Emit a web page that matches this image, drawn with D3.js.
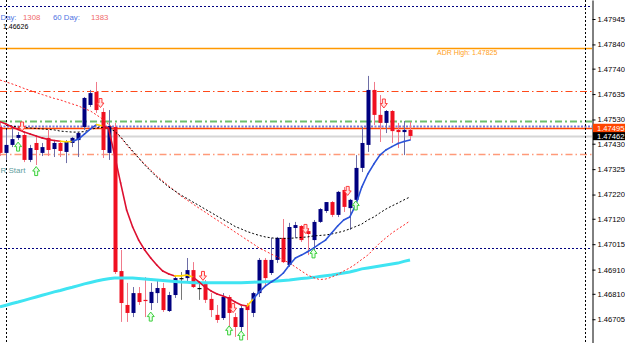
<!DOCTYPE html>
<html>
<head>
<meta charset="utf-8">
<script src="https://cdn.jsdelivr.net/npm/d3@7"></script>
<style>
  body { margin: 0; background: #fff; }
  svg { display: block; font-family: "Liberation Sans", Arial, sans-serif; }
</style>
</head>
<body>
<div id="chart"></div>
<script>
// candles (price)
const opens = [1.47499,1.47392,1.47425,1.47454,1.47466,1.47363,1.47433,1.47392,1.47454,1.47408,1.47433,1.47396,1.47433,1.47445,1.47499,1.47590,1.47644,1.47561,1.47392,1.47499,
  1.46904,1.46764,1.46731,1.46813,1.46785,1.46772,1.46813,1.46834,1.46739,1.46805,
  1.46875,1.46875,1.46908,1.46834,1.46855,1.46789,1.46723,1.46710,1.46797,1.46714,
  1.46673,1.46764,1.46731,1.46813,1.46950,1.46896,1.46950,1.47041,1.46929,1.47082,
  1.47090,1.47069,1.47032,1.47107,1.47152,1.47189,1.47136,1.47239,1.47164,1.47198,
  1.47330,1.47425,1.47652,1.47549,1.47516,1.47565,1.47487,1.47478,1.47487];
const highs = [1.47520,1.47487,1.47495,1.47478,1.47478,1.47425,1.47458,1.47433,1.47487,1.47445,1.47437,1.47445,1.47458,1.47478,1.47623,1.47652,1.47685,1.47577,1.47569,1.47516,
  1.46991,1.46855,1.46838,1.46838,1.46879,1.46855,1.46867,1.46855,1.46818,1.46888,
  1.46900,1.46958,1.46941,1.46855,1.46867,1.46813,1.46764,1.46813,1.46805,1.46731,
  1.46760,1.46772,1.46818,1.46958,1.46958,1.47041,1.47045,1.47119,1.47103,1.47107,
  1.47094,1.47082,1.47115,1.47164,1.47189,1.47193,1.47235,1.47251,1.47202,1.47383,
  1.47499,1.47710,1.47685,1.47631,1.47569,1.47569,1.47516,1.47524,1.47520];
const lows = [1.47379,1.47363,1.47416,1.47445,1.47354,1.47354,1.47342,1.47379,1.47379,1.47375,1.47375,1.47350,1.47416,1.47375,1.47487,1.47582,1.47557,1.47371,1.47363,1.46892,
  1.46694,1.46694,1.46714,1.46764,1.46714,1.46743,1.46772,1.46735,1.46735,1.46793,
  1.46785,1.46859,1.46834,1.46785,1.46772,1.46714,1.46690,1.46702,1.46669,1.46632,
  1.46656,1.46619,1.46714,1.46797,1.46846,1.46888,1.46937,1.46937,1.46921,1.47041,
  1.47024,1.46970,1.46983,1.47103,1.47144,1.47127,1.47127,1.47148,1.47074,1.47177,
  1.47313,1.47396,1.47507,1.47437,1.47474,1.47433,1.47412,1.47383,1.47445];
const closes = [1.47392,1.47425,1.47449,1.47466,1.47363,1.47412,1.47404,1.47416,1.47404,1.47433,1.47400,1.47437,1.47454,1.47474,1.47619,1.47639,1.47569,1.47404,1.47503,1.46900,
  1.46772,1.46731,1.46813,1.46776,1.46780,1.46818,1.46834,1.46743,1.46805,1.46875,
  1.46875,1.46908,1.46838,1.46834,1.46785,1.46743,1.46702,1.46797,1.46731,1.46673,
  1.46751,1.46743,1.46813,1.46950,1.46875,1.46950,1.47041,1.46941,1.47086,1.47094,
  1.47032,1.47057,1.47107,1.47160,1.47189,1.47136,1.47231,1.47169,1.47198,1.47330,
  1.47433,1.47652,1.47549,1.47516,1.47565,1.47482,1.47478,1.47487,1.47462];

// moving averages
const maFast = [1.47521,1.47511,1.47499,1.47489,1.47478,1.47470,1.47462,1.47454,1.47447,1.47443,
  1.47440,1.47438,1.47439,1.47449,1.47470,1.47491,1.47509,1.47503,1.47495,1.47383,
  1.47268,1.47156,1.47086,1.47032,1.46991,1.46958,1.46929,1.46904,1.46892,1.46884,
  1.46884,1.46888,1.46879,1.46859,1.46838,1.46822,1.46809,1.46801,1.46791,1.46776,
  1.46764,1.46760,1.46789,1.46818,1.46842,1.46859,1.46875,1.46896,1.46929,1.46958,
  1.46970,1.46984,1.46999,1.47016,1.47032,1.47061,1.47090,1.47115,1.47127,1.47177,
  1.47251,1.47305,1.47346,1.47383,1.47404,1.47418,1.47431,1.47439,1.47445];
const maRedDotted = [1.47693,1.47685,1.47677,1.47668,1.47658,1.47650,1.47641,1.47633,1.47625,1.47617,
  1.47611,1.47602,1.47594,1.47586,1.47575,1.47565,1.47549,1.47532,1.47511,1.47487,
  1.47458,1.47425,1.47396,1.47371,1.47346,1.47321,1.47297,1.47276,1.47255,1.47235,
  1.47214,1.47198,1.47181,1.47164,1.47148,1.47131,1.47115,1.47098,1.47082,1.47065,
  1.47049,1.47032,1.47016,1.46999,1.46987,1.46974,1.46962,1.46950,1.46937,1.46921,
  1.46904,1.46888,1.46877,1.46869,1.46871,1.46879,1.46890,1.46904,1.46917,1.46933,
  1.46952,1.46970,1.46995,1.47020,1.47041,1.47061,1.47078,1.47094,1.47111];
const maBlackDotted = [null,1.47507,1.47503,1.47499,1.47497,1.47495,1.47493,1.47491,1.47489,1.47487,
  1.47482,1.47480,1.47478,1.47478,1.47480,1.47489,1.47495,1.47497,1.47495,1.47482,
  1.47458,1.47429,1.47400,1.47371,1.47342,1.47317,1.47292,1.47272,1.47251,1.47235,
  1.47218,1.47204,1.47189,1.47175,1.47160,1.47146,1.47131,1.47117,1.47103,1.47088,
  1.47078,1.47067,1.47059,1.47051,1.47045,1.47041,1.47039,1.47039,1.47039,1.47041,
  1.47043,1.47045,1.47049,1.47051,1.47053,1.47057,1.47063,1.47069,1.47078,1.47088,
  1.47098,1.47115,1.47127,1.47144,1.47160,1.47173,1.47185,1.47198,1.47210];
const maCyan = [1.46756,1.46763,1.46770,1.46776,1.46783,1.46790,1.46797,1.46804,1.46811,1.46818,
  1.46824,1.46831,1.46837,1.46844,1.46851,1.46857,1.46863,1.46868,1.46872,1.46875,
  1.46875,1.46875,1.46875,1.46873,1.46871,1.46869,1.46867,1.46865,1.46863,1.46861,
  1.46859,1.46858,1.46856,1.46856,1.46856,1.46856,1.46856,1.46856,1.46856,1.46856,
  1.46856,1.46857,1.46858,1.46859,1.46860,1.46861,1.46863,1.46865,1.46867,1.46870,
  1.46873,1.46875,1.46878,1.46882,1.46885,1.46888,1.46892,1.46896,1.46900,1.46906,
  1.46913,1.46917,1.46921,1.46925,1.46929,1.46933,1.46937,1.46944,1.46950];

// signal arrows: candle index + price
const sellIdx = [3, 16, 33, 38, 50, 57, 63];
const sellPrice = [1.47501, 1.47598, 1.46884, 1.46751, 1.47078, 1.47235, 1.47596];
const buyIdx = [3, 6, 25, 38, 40, 52, 59];
const buyPrice = [1.47418, 1.47317, 1.46716, 1.46659, 1.46638, 1.46977, 1.47175];

// horizontal levels
const levelNames = ["topDot", "adrHigh", "res", "green", "ask", "bid", "last", "sup", "lowDot"];
const levelPrices = [1.48000, 1.47825, 1.47648, 1.47525, 1.47502, 1.47495, 1.47462, 1.47386, 1.46998];
const vlineIdx = [1, 97];

const tickVals = [1.47945,1.47840,1.47740,1.47635,1.47530,1.47430,1.47325,1.47220,1.47120,1.47015,1.46910,1.46810,1.46705];

const W = 625, H = 343, axisX = 592;

const svg = d3.select("#chart").append("svg").attr("width", W).attr("height", H);

let x = d3.scaleLinear().domain([0, 68]).range([0, 410]);
let y = d3.scaleLinear().domain([1.466069, 1.480235]).range([H, 0]);

const levelStyle = {
  topDot:  {stroke: "#000080", w: 1, dash: "2,2"},
  adrHigh: {stroke: "#ff9900", w: 1.5, dash: null},
  res:     {stroke: "#ff4a1a", w: 1, dash: "7,3,1.5,3"},
  green:   {stroke: "#6cbf6c", w: 2, dash: "7,3,2,3"},
  ask:     {stroke: "#7a7adc", w: 2, dash: "2,1.5"},
  bid:     {stroke: "#ff4500", w: 1.5, dash: null},
  last:    {stroke: "#d6d6d6", w: 2, dash: null},
  sup:     {stroke: "#ff9a7a", w: 1.5, dash: "7,3,1.5,3"},
  lowDot:  {stroke: "#000080", w: 1, dash: "2,2"}
};

// levels behind everything
let levelG = svg.append("g");
levelG.selectAll("line.level")
  .data(levelNames)
  .enter()
  .append("line")
  .attr("class", "level")
  .attr("x1", 0)
  .attr("x2", axisX)
  .attr("y1", (d, i) => Math.round(y(levelPrices[i])) + 0.5)
  .attr("y2", (d, i) => Math.round(y(levelPrices[i])) + 0.5)
  .attr("stroke", d => levelStyle[d].stroke)
  .attr("stroke-width", d => levelStyle[d].w)
  .attr("stroke-dasharray", d => levelStyle[d].dash);

// vertical dotted separators
svg.selectAll("line.vsep")
  .data(vlineIdx)
  .enter()
  .append("line")
  .attr("class", "vsep")
  .attr("x1", d => Math.round(x(d)) + 0.5)
  .attr("x2", d => Math.round(x(d)) + 0.5)
  .attr("y1", 0).attr("y2", H)
  .attr("stroke", "#000").attr("stroke-width", 1)
  .attr("stroke-dasharray", "2,2");

// candles
const idx = d3.range(opens.length);
let candleG = svg.append("g");
candleG.selectAll("line.wick")
  .data(idx)
  .enter()
  .append("line")
  .attr("class", "wick")
  .attr("x1", i => Math.round(x(i)) + 0.5)
  .attr("x2", i => Math.round(x(i)) + 0.5)
  .attr("y1", i => y(highs[i]))
  .attr("y2", i => y(lows[i]))
  .attr("stroke", i => closes[i] > opens[i] ? "#6e6ea6" : (closes[i] < opens[i] ? "#f07a8a" : "#777"))
  .attr("stroke-width", 1);

candleG.selectAll("rect.body")
  .data(idx)
  .enter()
  .append("rect")
  .attr("class", "body")
  .attr("x", i => Math.round(x(i)) - 1.5)
  .attr("width", 4)
  .attr("y", i => Math.min(y(opens[i]), y(closes[i])))
  .attr("height", i => Math.max(1.2, Math.abs(y(opens[i]) - y(closes[i]))))
  .attr("fill", i => closes[i] > opens[i] ? "#000080" : (closes[i] < opens[i] ? "#f01020" : "#000"));

// moving averages
const line = d3.line()
  .defined(d => d != null)
  .x((d, i) => x(i))
  .y(d => y(d));

svg.append("path").datum(maCyan)
  .attr("d", line).attr("fill", "none")
  .attr("stroke", "#3fe4f2").attr("stroke-width", 3);

svg.append("path").datum(maRedDotted)
  .attr("d", line).attr("fill", "none")
  .attr("stroke", "#ff2a2a").attr("stroke-width", 1).attr("stroke-dasharray", "2,2");

svg.append("path").datum(maBlackDotted)
  .attr("d", line).attr("fill", "none")
  .attr("stroke", "#000").attr("stroke-width", 1).attr("stroke-dasharray", "2,2");

// colour-changing MA: blue rising, red falling, yellow at the turns
let segs = d3.range(maFast.length - 1).map(i => {
  let diff = maFast[i + 1] - maFast[i];
  let prev = i > 0 ? maFast[i] - maFast[i - 1] : diff;
  let col = diff > 0 ? "#2a52d8" : "#dd1030";
  if (Math.abs(diff) <= 0.00002 || (i > 0 && Math.sign(prev) !== Math.sign(diff))) col = "#ffd400";
  return {i: i, col: col};
});
svg.selectAll("line.maseg")
  .data(segs)
  .enter()
  .append("line")
  .attr("class", "maseg")
  .attr("x1", d => x(d.i))
  .attr("x2", d => x(d.i + 1))
  .attr("y1", d => y(maFast[d.i]))
  .attr("y2", d => y(maFast[d.i + 1]))
  .attr("stroke", d => d.col)
  .attr("stroke-width", 1.6)
  .attr("stroke-linecap", "round");

// arrows
const downArrow = "M-1.5,-4.5H1.5V0H3.5L0,4.5L-3.5,0H-1.5Z";
const upArrow = "M-1.5,4.5H1.5V0H3.5L0,-4.5L-3.5,0H-1.5Z";
svg.selectAll("path.sell")
  .data(sellIdx)
  .enter()
  .append("path")
  .attr("class", "sell")
  .attr("d", downArrow)
  .attr("transform", (d, k) => `translate(${x(d) + 4},${y(sellPrice[k])})`)
  .attr("fill", "#ffe4e4").attr("stroke", "#ff3b3b").attr("stroke-width", 1);
svg.selectAll("path.buy")
  .data(buyIdx)
  .enter()
  .append("path")
  .attr("class", "buy")
  .attr("d", upArrow)
  .attr("transform", (d, k) => `translate(${x(d)},${y(buyPrice[k])})`)
  .attr("fill", "#eaffea").attr("stroke", "#3ccf3c").attr("stroke-width", 1);

// price axis
svg.append("rect").attr("x", axisX).attr("y", 0).attr("width", W - axisX).attr("height", H).attr("fill", "#fff");
let yAxis = svg.append("g")
  .attr("transform", `translate(${axisX + 0.5},0)`)
  .call(d3.axisRight(y).tickValues(tickVals).tickFormat(d3.format(".5f")).tickSize(3).tickSizeOuter(0).tickPadding(2));
yAxis.select(".domain").attr("stroke", "#000");
yAxis.selectAll("text").attr("font-size", "7.6px").attr("fill", "#000")
  .attr("font-family", "'Liberation Sans', Arial, sans-serif");

// price tags
const tagPrices = [levelPrices[6], levelPrices[5]];
const tagFill = ["#000", "#ff4500"];
svg.selectAll("rect.tag")
  .data(tagPrices)
  .enter()
  .append("rect")
  .attr("class", "tag")
  .attr("x", axisX + 1).attr("width", W - axisX - 1)
  .attr("y", d => y(d) - 4.2).attr("height", 8.4)
  .attr("fill", (d, k) => tagFill[k]);
svg.selectAll("text.tag")
  .data(tagPrices)
  .enter()
  .append("text")
  .attr("class", "tag")
  .attr("x", axisX + 5)
  .attr("y", d => y(d) + 2.8)
  .attr("font-size", "7.6px")
  .attr("fill", "#fff")
  .text(d => d3.format(".5f")(d));

// texts
svg.append("text").attr("x", 0.5).attr("y", 19.5)
  .attr("font-size", "7.8px").attr("fill", "#4f74e3").text("Day:");
svg.append("text").attr("x", 23).attr("y", 19.5)
  .attr("font-size", "7.8px").attr("fill", "#f06a6a").text("1308");
svg.append("text").attr("x", 53).attr("y", 19.5)
  .attr("font-size", "7.8px").attr("fill", "#4f74e3").text("60 Day:");
svg.append("text").attr("x", 91).attr("y", 19.5)
  .attr("font-size", "7.8px").attr("fill", "#f06a6a").text("1383");
svg.append("text").attr("x", 3).attr("y", 28.5)
  .attr("font-size", "7px").attr("fill", "#000").text("1.46626");
svg.append("text").attr("x", 437).attr("y", 55)
  .attr("font-size", "7px").attr("fill", "#ffa020").text("ADR High: " + d3.format(".5f")(levelPrices[1]));
svg.append("text").attr("x", 0.5).attr("y", 173)
  .attr("font-size", "8px").attr("fill", "#5f9ea0").text("R Start");
</script>
</body>
</html>
